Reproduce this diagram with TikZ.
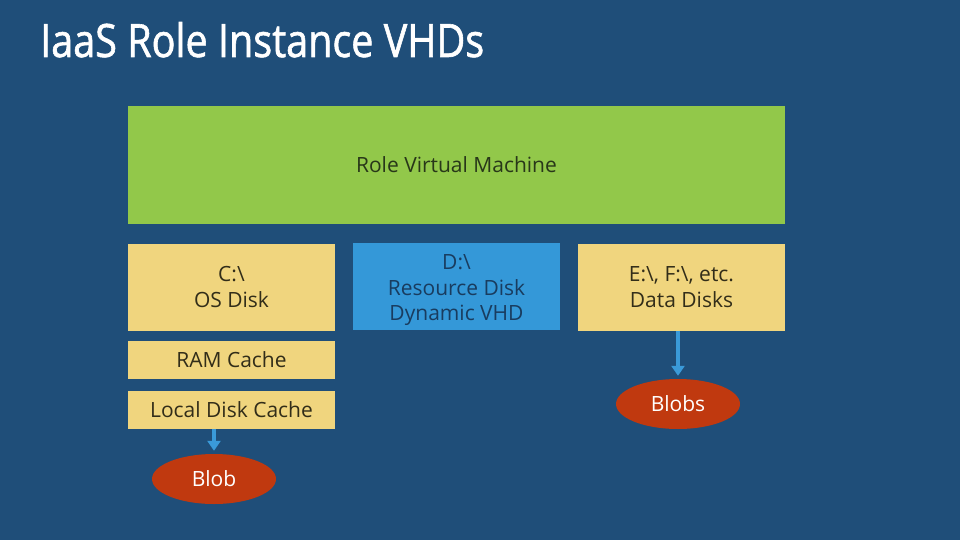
\documentclass[tikz,border=0pt]{standalone}
\usepackage{fontspec}
\setmainfont{Open Sans}
\newfontfamily\titlefont[FakeBold=1.3,FakeStretch=0.86]{Open Sans}
\usetikzlibrary{arrows.meta,shapes.geometric}
\definecolor{bg}{RGB}{31,78,121}
\definecolor{vmgreen}{RGB}{146,200,74}
\definecolor{diskyellow}{RGB}{240,213,126}
\definecolor{diskblue}{RGB}{52,152,216}
\definecolor{blobred}{RGB}{192,57,15}
\definecolor{arrowblue}{RGB}{58,154,217}
\definecolor{txtdark}{RGB}{50,45,25}
\definecolor{txtblue}{RGB}{25,60,95}
\definecolor{txtgreen}{RGB}{40,55,25}
\begin{document}
\begin{tikzpicture}[x=1pt,y=-1pt,
  box/.style={rectangle,inner sep=0pt,align=center,font=\fontsize{21}{25.5}\selectfont},
  ybox/.style={box,fill=diskyellow,text=txtdark},
  blobnode/.style={ellipse,fill=blobred,text=white,inner sep=0pt,minimum width=124pt,minimum height=50pt,font=\fontsize{21}{25}\selectfont},
  flow/.style={draw=arrowblue,line width=4pt,-{Triangle[width=13pt,length=10pt]},shorten >=3pt}]
\fill[bg] (0,0) rectangle (960,540);
\useasboundingbox (0,0) rectangle (960,540);
\node[anchor=base west,text=white,inner sep=0pt,font=\titlefont\fontsize{46}{50}\selectfont] (title) at (40,57) {IaaS Role Instance VHDs};
\node[box,fill=vmgreen,text=txtgreen,minimum width=657pt,minimum height=118pt] (vm) at (456.5,165) {Role Virtual Machine};
\node[ybox,minimum width=207pt,minimum height=87pt] (os) at (231.5,287) {C:\textbackslash\\OS Disk};
\node[box,fill=diskblue,text=txtblue,minimum width=207pt,minimum height=87pt] (res) at (456.5,286.5) {\rule{0pt}{23pt}D:\textbackslash\\Resource Disk\\Dynamic VHD};
\node[ybox,minimum width=207pt,minimum height=87pt] (data) at (681.5,287) {E:\textbackslash, F:\textbackslash, etc.\\Data Disks};
\node[ybox,minimum width=207pt,minimum height=38pt] (ram) at (231.5,360) {RAM Cache};
\node[ybox,minimum width=207pt,minimum height=38pt] (ldc) at (231.5,410) {Local Disk Cache};
\node[blobnode] (blob) at (214,479) {Blob};
\node[blobnode] (blobs) at (678,404) {Blobs};
\draw[flow] (ldc.south -| blob.north) -- (blob.north);
\draw[flow] (data.south -| blobs.north) -- (blobs.north);
\end{tikzpicture}
\end{document}
